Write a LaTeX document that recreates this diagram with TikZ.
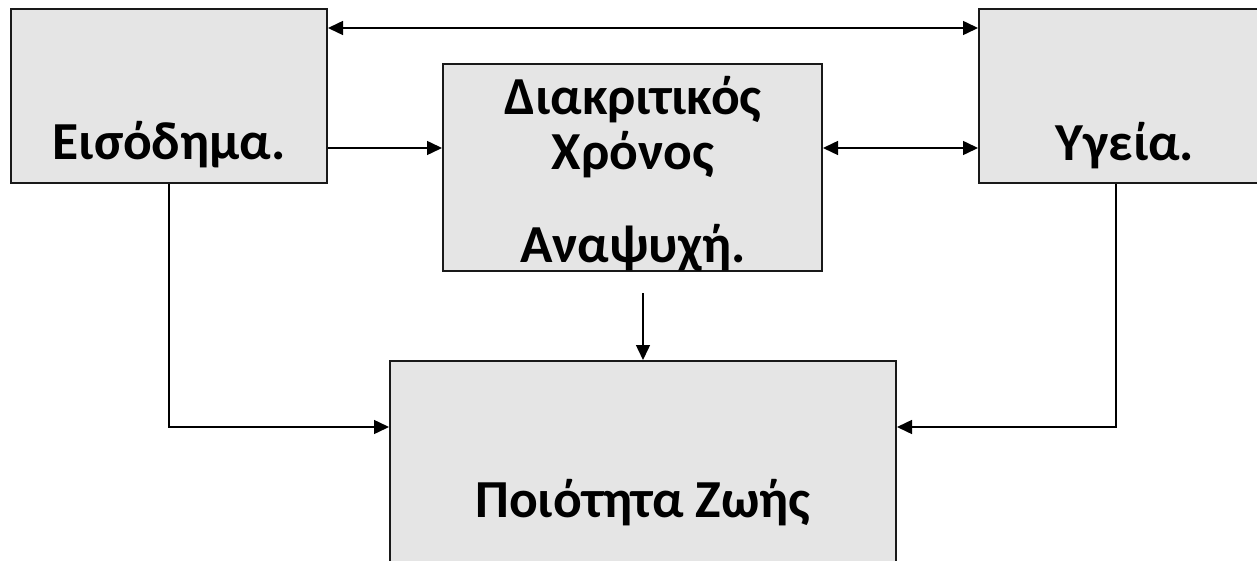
\documentclass[tikz,border=0pt]{standalone}
\usepackage{fontspec}
\setmainfont{Carlito}
\usetikzlibrary{arrows.meta}
\tikzstyle{box}=[draw=black!90,line width=2pt,fill=black!10,inner sep=0pt]
\tikzstyle{label text}=[font=\fontsize{53.5}{60}\selectfont\bfseries,inner sep=0pt,anchor=base]
\tikzstyle{edge} = [draw,line width=1.5pt,-{Triangle[length=15pt,width=14pt]}]
\tikzstyle{both edge} = [draw,line width=1.5pt,{Triangle[length=15pt,width=14pt]}-{Triangle[length=15pt,width=14pt]}]

\begin{document}
\begin{tikzpicture}[x=1pt,y=-1pt]
	\useasboundingbox (0,0) rectangle (1257,561);
	\clip (0,0) rectangle (1257,561);
	% First we draw the boxes
	\foreach \pos/\w/\h/\name in {{(169,96)/316/174/income}, {(1125,96)/292/174/health}, {(632.5,167.5)/379/207/leisure}, {(643,500.5)/506/279/quality}}
	\node[box, minimum width=\w pt, minimum height=\h pt] (\name) at \pos {};
	
	% Then the texts, set on their baselines
	\foreach \pos/\txt/\name in {{(169,160)/Εισόδημα./incometext}, {(1125,161)/Υγεία./healthtext}, {(633,115)/Διακριτικός/leisuretexta}, {(633,170)/Χρόνος/leisuretextb}, {(633,262)/Αναψυχή./leisuretextc}, {(643,517)/Ποιότητα Ζωής/qualitytext}}
	\node[label text] (\name) at \pos {\txt};
	
	% Connect boxes with arrows
	\path[both edge] ([yshift=-20pt]income.north east) -- ([yshift=-20pt]health.north west);
	\path[edge] ([yshift=-52pt]income.east) -- ([yshift=-52pt]income.east -| leisure.west);
	\path[both edge] ([yshift=-52pt]health.west -| leisure.east) -- ([yshift=-52pt]health.west);
	\path[edge] ([yshift=-21pt]leisure.south -| quality.north) -- (quality.north);
	\path[edge] (income.south) |- ([yshift=73.5pt]quality.west);
	\path[edge] ([xshift=-9pt]health.south) |- ([yshift=73.5pt]quality.east);
\end{tikzpicture}
\end{document}
